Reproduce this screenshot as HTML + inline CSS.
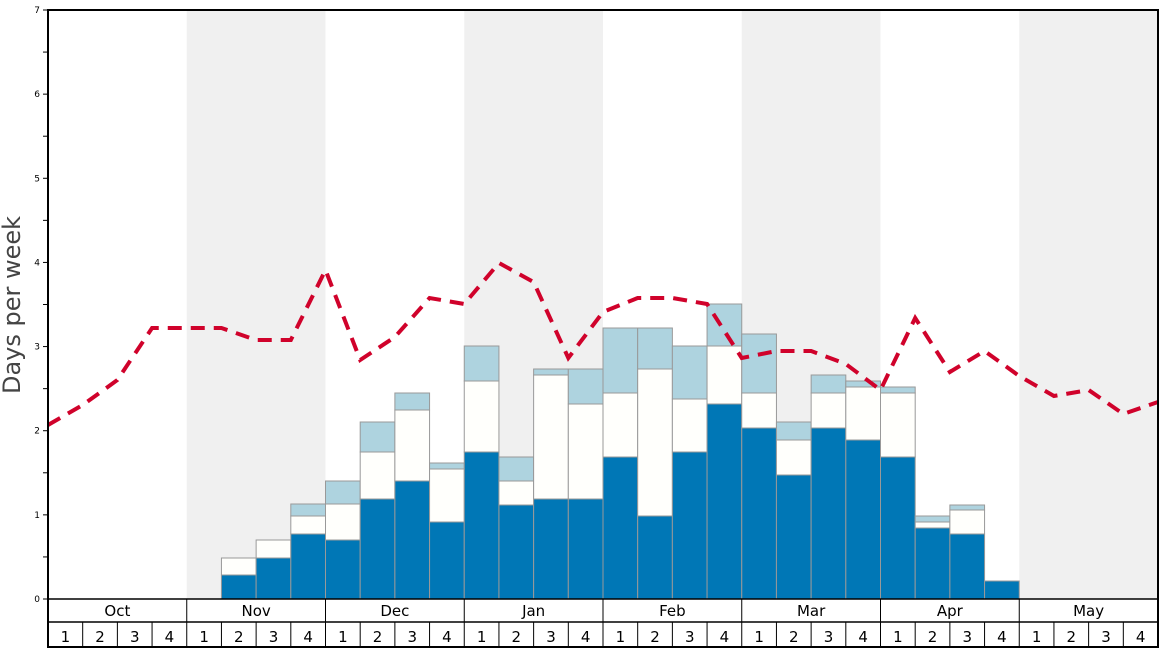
<!DOCTYPE html>
<html><head><meta charset="utf-8"><style>
html,body{margin:0;padding:0;background:#fff;width:1168px;height:648px;overflow:hidden}
svg text{font-family:"DejaVu Sans","Liberation Sans",sans-serif}
</style></head><body>
<svg id="c" width="1168" height="648" xmlns="http://www.w3.org/2000/svg"></svg>
<script>
const W=(1158-48)/32, X=k=>48+k*W, Y=v=>599-v*84.143;
let s='';
[1,3,5,7].forEach(m=>{s+=`<rect x="${X(m*4)}" y="10" width="${4*W}" height="589" fill="#f0f0f0"/>`;});
const bars=[[5,575,558,558],[6,558,540,540],[7,534,516,504],[8,540,504,481],[9,499,452,422],[10,481,410,393],[11,522,469,463],
[12,452,381,346],[13,505,481,457],[14,499,375,369],[15,499,404,369],[16,457,393,328],[17,516,369,328],[18,452,399,346],[19,404,346,304],
[20,428,393,334],[21,475,440,422],[22,428,393,375],[23,440,387,381],[24,457,393,387],[25,528,522,516],[26,534,510,505],[27,581,581,581]];
bars.forEach(([i,b,w,l])=>{const x=X(i);
 if(l<w)s+=`<rect x="${x}" y="${l}" width="${W}" height="${w-l}" fill="#aed3df" stroke="#999" stroke-width="1"/>`;
 if(w<b)s+=`<rect x="${x}" y="${w}" width="${W}" height="${b-w}" fill="#fffffc" stroke="#999" stroke-width="1"/>`;
 s+=`<rect x="${x}" y="${b}" width="${W}" height="${599-b}" fill="#0077b6" stroke="#999" stroke-width="1"/>`;
});
const ly=[425,405,380,328,328,328,340,340,270,360,337,298,304,263,282,358,312,298,298,304,358,351,351,364,390,318,372,351,376,396,390,414,402];
s+=`<polyline points="${ly.map((y,k)=>X(k)+','+y).join(' ')}" fill="none" stroke="#d0022b" stroke-width="4" stroke-dasharray="14,9"/>`;
s+=`<rect x="48" y="10" width="1110" height="637" fill="none" stroke="#000" stroke-width="2"/>`;
s+=`<line x1="48" y1="599" x2="1158" y2="599" stroke="#000" stroke-width="1.5"/>`;
s+=`<line x1="48" y1="622" x2="1158" y2="622" stroke="#000" stroke-width="1.5"/>`;
for(let v=0;v<=7;v+=0.5){const y=Y(v);s+=`<line x1="43" y1="${y}" x2="48" y2="${y}" stroke="#000" stroke-width="1"/>`;
 if(v%1===0)s+=`<text x="40" y="${y+3}" font-size="9" text-anchor="end">${v}</text>`;}
s+=`<text transform="translate(20,305) rotate(-90)" font-size="24" fill="#444" text-anchor="middle">Days per week</text>`;
const M=['Oct','Nov','Dec','Jan','Feb','Mar','Apr','May'];
M.forEach((m,i)=>{s+=`<text x="${X(i*4+2)}" y="616" font-size="15" text-anchor="middle">${m}</text>`;
 if(i>0)s+=`<line x1="${X(i*4)}" y1="599" x2="${X(i*4)}" y2="647" stroke="#000" stroke-width="1"/>`;});
for(let k=0;k<32;k++){if(k%4)s+=`<line x1="${X(k)}" y1="622" x2="${X(k)}" y2="647" stroke="#000" stroke-width="1"/>`;
 s+=`<text x="${X(k)+W/2}" y="642" font-size="15" text-anchor="middle">${k%4+1}</text>`;}
document.getElementById('c').innerHTML=s;
</script>
</body></html>
